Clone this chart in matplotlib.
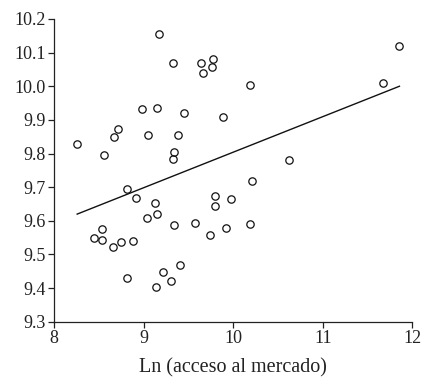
import matplotlib
matplotlib.use('Agg')
import matplotlib.pyplot as plt

plt.rcParams['font.family'] = ['Liberation Serif', 'DejaVu Serif']

# Ln (acceso al mercado)
acceso = [8.25, 9.166, 9.323, 9.643, 9.658, 9.777, 9.762, 8.977, 9.144, 9.446,
          8.715, 8.663, 9.047, 9.379, 8.555, 9.341, 9.33, 8.809, 9.888, 10.187,
          11.848, 11.669, 10.626, 10.212, 8.913, 9.128, 9.147, 9.032, 9.341, 9.569,
          9.743, 9.795, 9.795, 8.447, 8.53, 8.536, 8.659, 8.745, 8.879, 8.812,
          9.133, 9.215, 9.3, 9.408, 9.974, 9.918, 10.19]
valor = [9.827, 10.156, 10.07, 10.068, 10.04, 10.081, 10.057, 9.932, 9.936, 9.92,
         9.872, 9.848, 9.856, 9.856, 9.797, 9.806, 9.783, 9.696, 9.909, 10.004,
         10.12, 10.01, 9.781, 9.717, 9.667, 9.654, 9.62, 9.609, 9.588, 9.594,
         9.558, 9.675, 9.645, 9.55, 9.575, 9.542, 9.521, 9.536, 9.54, 9.43,
         9.403, 9.447, 9.421, 9.468, 9.666, 9.579, 9.592]

# recta de ajuste (extremos)
ajuste_x = [8.257, 11.855]
ajuste_y = [9.62, 10.0]

xticks = [8, 9, 10, 11, 12]
yticks = [9.3, 9.4, 9.5, 9.6, 9.7, 9.8, 9.9, 10.0, 10.1, 10.2]

fig = plt.figure(figsize=(4.23, 3.79), dpi=100)
ax = fig.add_axes([0.128, 0.151, 0.847, 0.799])

ax.plot(acceso, valor, 'o', mfc='none', mec='#111111', mew=0.9, ms=5.3, clip_on=False)
ax.plot(ajuste_x, ajuste_y, '-', color='#111111', lw=1.0)

ax.set_xlim(8, 12)
ax.set_ylim(9.3, 10.2)
ax.set_xticks(xticks)
ax.set_xticklabels([str(t) for t in xticks])
ax.set_yticks(yticks)
ax.set_yticklabels([f'{t:.1f}' for t in yticks])

for s in ('top', 'right'):
    ax.spines[s].set_visible(False)
for s in ('left', 'bottom'):
    ax.spines[s].set_linewidth(0.9)
    ax.spines[s].set_color('#222222')

ax.tick_params(direction='out', length=4, width=0.9, labelsize=13, colors='#222222', pad=2)
ax.set_xlabel('Ln (acceso al mercado)', fontsize=14.5, color='#222222', labelpad=8)

fig.savefig('out.png', dpi=100)
